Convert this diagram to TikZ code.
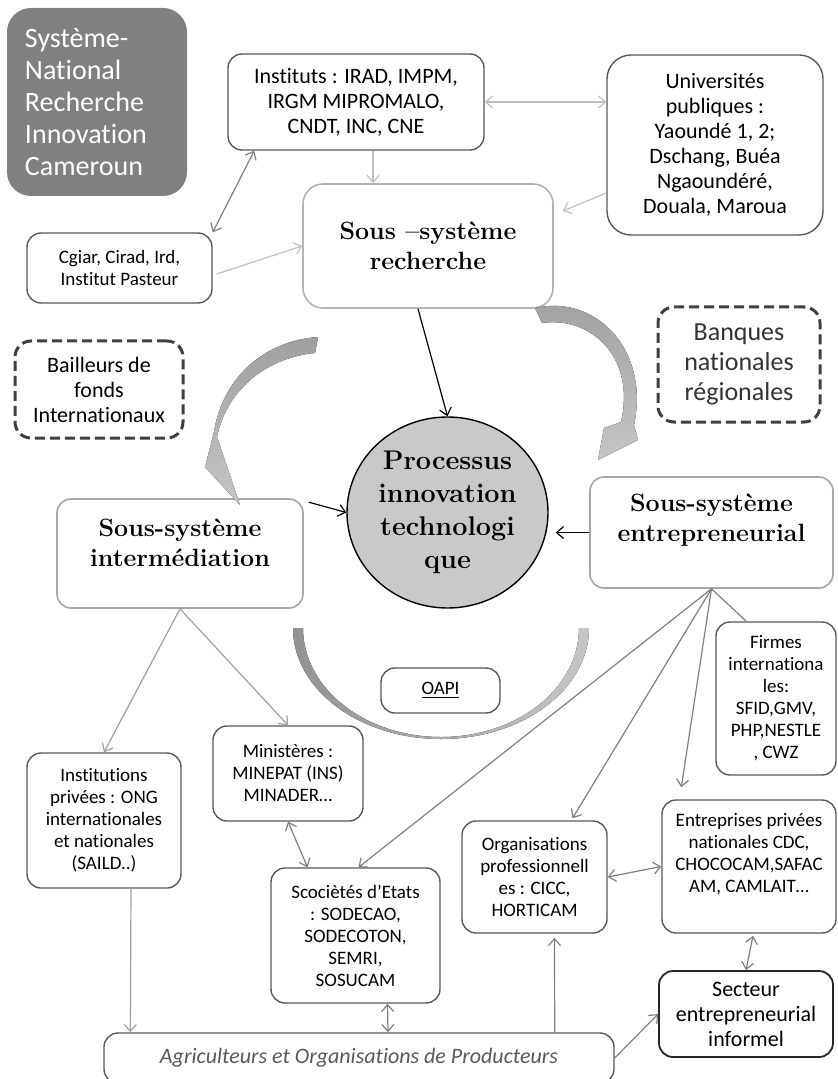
\documentclass[tikz,border=0pt]{standalone}
\usepackage{fontspec}
\newfontfamily\calib{Carlito}[Ligatures={NoCommon}]
\usetikzlibrary{arrows.meta,calc,shapes.geometric}
\definecolor{boxgray}{HTML}{595959}
\definecolor{palegray}{HTML}{B3B3B3}
\definecolor{linkgray}{HTML}{808080}
\definecolor{litegray}{HTML}{BFBFBF}
\definecolor{dashgray}{HTML}{404040}

\begin{document}
\begin{tikzpicture}[x=0.5pt,y=-0.5pt,>={Straight Barb[length=3.5pt,width=6pt]},
  box/.style={draw=boxgray,line width=0.7pt,rounded corners=7pt,fill=white,align=center,inner sep=2pt,font=\calib\fontsize{9.5}{11}\selectfont},
  bigbox/.style={box,font=\calib\fontsize{11}{12.5}\selectfont},
  subsys/.style={box,draw=palegray,line width=0.8pt,font=\rmfamily\bfseries\fontsize{12.5}{15}\selectfont},
  fund/.style={box,draw=dashgray,line width=1.5pt,dash pattern=on 5pt off 2.5pt,rounded corners=8pt},
  arr/.style={->,draw=linkgray,line width=0.6pt},
  dbl/.style={<->,draw=linkgray,line width=0.6pt},
  lite/.style={arr,draw=litegray},
  mid/.style={arr,draw=gray!75},
  blk/.style={->,draw=black,line width=0.6pt},
  swoosh/.style={top color=gray!75,bottom color=gray!45,draw=none}]
\path[use as bounding box] (0,0) rectangle (838,1079);
\clip (0,0) rectangle (838,1079);

\node[box,draw=none,fill=gray,text=white,rounded corners=12pt,align=left,minimum width=90pt,minimum height=94pt,text width=72pt,font=\calib\fontsize{14}{16}\selectfont] (sys) at (97,102) {Système-\\National\\Recherche\\Innovation\\Cameroun};
\node[bigbox,minimum width=128pt,minimum height=48pt] (inst) at (356,102) {Instituts : IRAD, IMPM,\\IRGM MIPROMALO,\\CNDT, INC, CNE};
\node[bigbox,rounded corners=12pt,minimum width=108pt,minimum height=90pt] (univ) at (715,145) {Universités\\publiques :\\Yaoundé 1, 2;\\Dschang, Buéa\\Ngaoundéré,\\Douala, Maroua};
\node[box,minimum width=92.5pt,minimum height=35pt] (cgiar) at (119.5,268) {Cgiar, Cirad, Ird,\\Institut Pasteur};
\node[subsys,rounded corners=10pt,minimum width=125pt,minimum height=62pt] (rech) at (428,246) {Sous –système\\recherche};
\node[fund,minimum width=84pt,minimum height=48.5pt,font=\calib\fontsize{11}{12.5}\selectfont] (bail) at (99,389.5) {Bailleurs de\\fonds\\Internationaux};
\node[fund,minimum width=81pt,minimum height=57.5pt,text=black!80,font=\calib\fontsize{13}{15}\selectfont] (banq) at (739,364.5) {Banques\\nationales\\régionales};
\node[ellipse,draw=black,line width=0.7pt,fill=gray!42,inner sep=0pt,minimum width=100.5pt,minimum height=95.5pt,align=center,font=\rmfamily\bfseries\fontsize{13.5}{16.5}\selectfont] (proc) at (447.5,512.5) {Processus\\innovation\\technologi\\que};
\node[subsys,draw=gray!70,minimum width=123pt,minimum height=54.5pt,text depth=11pt] (inter) at (180,553.5) {Sous-système\\intermédiation};
\node[subsys,draw=gray!70,minimum width=121.5pt,minimum height=55.5pt,text depth=15pt] (entre) at (711.5,532.5) {Sous-système\\entrepreneurial};
\node[box,minimum width=59.5pt,minimum height=22.5pt] (oapi) at (440.5,690.5) {\underline{OAPI}};
\node[box,minimum width=75pt,minimum height=47.5pt] (mini) at (288,773.5) {Ministères :\\MINEPAT (INS)\\MINADER…};
\node[box,minimum width=77pt,minimum height=67.5pt] (priv) at (104,820.5) {Institutions\\privées : ONG\\internationales\\et nationales\\(SAILD..)};
\node[box,minimum width=84.5pt,minimum height=67.5pt] (soc) at (355.5,935.5) {Scociètés d’Etats\\: SODECAO,\\SODECOTON,\\SEMRI,\\SOSUCAM};
\node[box,minimum width=72.5pt,minimum height=56pt] (org) at (534.5,877) {Organisations\\professionnell\\es : CICC,\\HORTICAM};
\node[box,minimum width=87pt,minimum height=66.5pt,text depth=13.5pt] (ent) at (749,866.5) {Entreprises privées\\nationales CDC,\\CHOCOCAM,SAFAC\\AM, CAMLAIT…};
\node[box,minimum width=60pt,minimum height=76.5pt] (firm) at (776,698.5) {Firmes\\internationa\\les:\\SFID,GMV,\\PHP,NESTLE\\, CWZ};
\node[bigbox,draw=black!85,line width=0.9pt,minimum width=87pt,minimum height=43pt] (sect) at (746,1014) {Secteur\\entrepreneurial\\informel};
\node[bigbox,text=boxgray,minimum width=255pt,minimum height=25pt,font=\calib\itshape\fontsize{11}{12.5}\selectfont] (agri) at (359,1058) {Agriculteurs et Organisations de Producteurs};

\draw[dbl] (cgiar.north east) -- ($(inst.south west)+(27,0)$);
\draw[lite] ($(inst.south)+(17,0)$) -- ($(rech.north)+(-55,0)$);
\draw[lite,<->] (inst.east) -- (inst.east -| univ.west);
\draw[lite] ($(univ.west)+(0,48)$) -- ($(rech.east)+(9,-35)$);
\draw[lite] ($(cgiar.east)+(4,6)$) -- (rech.west);
\draw[blk] ($(rech.south)+(-10,0)$) -- (proc.north);
\draw[blk] ($(inter.north east)+(5,4)$) -- (proc.west);
\draw[blk] (entre.west) -- ($(proc.east)+(7,20)$);
\draw[mid] (inter.south) -- (priv.north);
\draw[mid] (inter.south) -- (mini.north);
\draw[dbl] (mini.south) -- ($(soc.north)+(-48,0)$);
\draw[mid] ($(priv.south)+(27,0)$) -- ($(agri.north west)+(27,0)$);
\draw[dbl] ($(soc.south)+(32,0)$) -- ($(agri.north)+(29,0)$);
\draw[arr] (entre.south) -- ($(soc.north)+(3,0)$);
\draw[arr] (entre.south) -- ($(org.north)+(38,-2)$);
\draw[arr] (entre.south) -- ($(ent.north west)+(20,-12)$);
\draw[draw=linkgray,line width=0.6pt] (entre.south) -- ($(firm.north west)+(31,0)$);
\draw[dbl] (org.east) -- (ent.west);
\draw[dbl] ($(ent.south)+(4,2)$) -- (sect.north);
\draw[arr] ($(agri.north east)+(-60,0)$) -- ($(org.south)+(20,4)$);
\draw[arr] (agri.east) -- (sect.west);

\fill[swoosh] (318,337) .. controls (262,341) and (222,380) .. (214,432) -- (205,467) -- (240,505) -- (217,437) .. controls (226,392) and (264,358) .. (315,353) -- cycle;
\fill[swoosh] (535,308) .. controls (596,294) and (650,350) .. (634,425) -- (638,440) -- (598,460) -- (604,428) -- (621,422) .. controls (636,356) and (590,316) .. (542,323) -- cycle;
\fill[left color=gray!85,right color=gray!45] (293,628) arc[start angle=180,end angle=0,x radius=148,y radius=111] -- (579,628) arc[start angle=0,end angle=180,x radius=138,y radius=109] -- cycle;
\end{tikzpicture}
\end{document}
